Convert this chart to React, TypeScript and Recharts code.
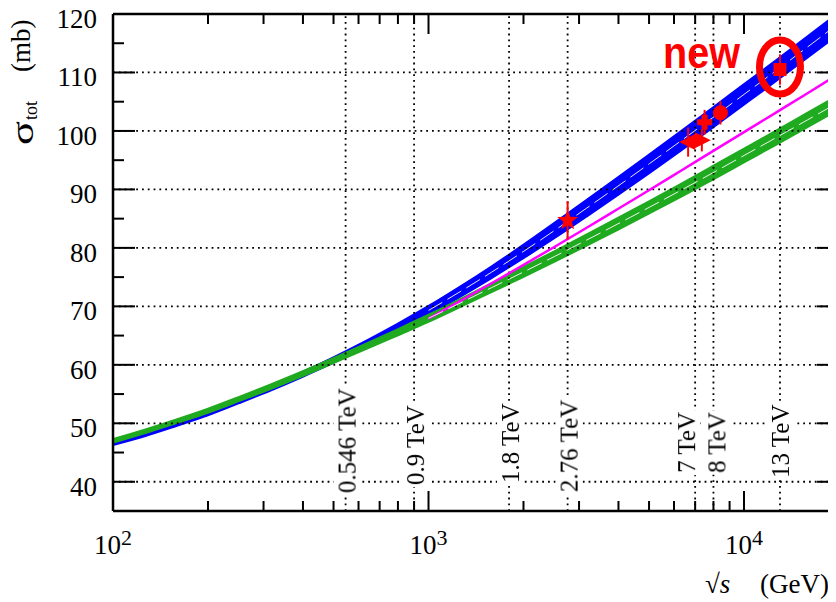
import React from 'react';
import {
  ComposedChart,
  XAxis,
  YAxis,
  Line,
  Area,
  Scatter,
  ErrorBar,
  ReferenceLine,
} from 'recharts';

// ---- model curves: total cross-section (mb) vs sqrt(s) (GeV) ----
const energies = [
  100, 126, 158, 200, 251, 316, 398, 501, 631, 794, 1000, 1259, 1585, 1995,
  2512, 3162, 3981, 5012, 6310, 7943, 10000, 12589, 15849, 19953,
];

const blueCentral = [
  46.6, 48.1, 49.8, 51.7, 53.8, 56.0, 58.35, 60.85, 63.5, 66.3, 69.3, 72.5,
  75.85, 79.35, 83.0, 86.75, 90.55, 94.4, 98.3, 102.25, 106.25, 110.25, 114.3,
  118.4,
];
const blueLower = [
  46.25, 47.75, 49.45, 51.32, 53.4, 55.57, 57.88, 60.33, 62.9, 65.6, 68.5,
  71.58, 74.8, 78.15, 81.65, 85.28, 88.98, 92.76, 96.6, 100.5, 104.45, 108.42,
  112.44, 116.5,
];
const blueUpper = [
  46.95, 48.45, 50.15, 52.08, 54.2, 56.43, 58.82, 61.37, 64.1, 67.0, 70.1,
  73.42, 76.9, 80.55, 84.35, 88.22, 92.12, 96.04, 100.0, 104.0, 108.05,
  112.08, 116.16, 120.3,
];

const greenCentral = [
  47.0, 48.6, 50.3, 52.15, 54.15, 56.25, 58.45, 60.75, 63.1, 65.5, 67.95,
  70.55, 73.2, 75.85, 78.55, 81.3, 84.1, 86.95, 89.85, 92.8, 95.8, 98.8,
  101.85, 104.9,
];
const greenLower = [
  46.65, 48.25, 49.95, 51.77, 53.75, 55.83, 58.01, 60.29, 62.6, 64.94, 67.3,
  69.83, 72.4, 74.97, 77.6, 80.3, 83.05, 85.85, 88.7, 91.6, 94.58, 97.55,
  100.57, 103.6,
];
const greenUpper = [
  47.35, 48.95, 50.65, 52.53, 54.55, 56.67, 58.89, 61.21, 63.6, 66.06, 68.6,
  71.27, 74.0, 76.73, 79.5, 82.3, 85.15, 88.05, 91.0, 94.0, 97.02, 100.05,
  103.13, 106.2,
];

const magentaEnergies = [
  1000, 1259, 1585, 1995, 2512, 3162, 3981, 5012, 6310, 7943, 10000, 12589,
  15849, 19953,
];
const magentaValues = [
  67.9, 70.9, 73.95, 77.05, 80.2, 83.4, 86.65, 89.9, 93.2, 96.5, 99.8, 103.1,
  106.4, 109.75,
];

// ---- measurements ----
const starPoints = [{ e: 2760, s: 84.7, err: 3.3 }];
const leftTrianglePoints = [{ e: 6650, s: 98.1, err: 2.5 }];
const rightTrianglePoints = [{ e: 7350, s: 98.4, err: 1.9 }];
const crossPoints = [{ e: 7500, s: 101.5, err: 2.1 }];
const circlePoints = [{ e: 8420, s: 103.1, err: 2.0 }];
const squarePoints = [{ e: 13000, s: 110.5, err: 2.6 }];

// ---- axes, grid and energy markers ----
const xTicks = [
  100, 200, 300, 400, 500, 600, 700, 800, 900, 1000, 2000, 3000, 4000, 5000,
  6000, 7000, 8000, 9000, 10000, 20000,
];
const yTicks = [40, 45, 50, 55, 60, 65, 70, 75, 80, 85, 90, 95, 100, 105, 110, 115, 120];
const gridValues = [40, 50, 60, 70, 80, 90, 100, 110];
const lhcEnergies = [546, 900, 1800, 2760, 7000, 8000, 13000];
const lhcLabels = ['0.546 TeV', '0.9 TeV', '1.8 TeV', '2.76 TeV', '7 TeV', '8 TeV', '13 TeV'];

// label placement (px): baseline shift from the line, lift above the frame
const labelShift = [10, 10, 10, 10, 0, 12, 9];
const labelLift = [18, 26, 28, 19, 38, 38, 33];

// ---- layout ----
const W = 840;
const H = 594;
const PLOT_LEFT = 105;
const PLOT_TOP = 6;
const PLOT_RIGHT = 831;
const PLOT_BOTTOM = 503;
const Y_AXIS_W = 60;
const X_AXIS_H = 40;

const SERIF = '"Liberation Serif", "Times New Roman", Times, serif';
const SANS = '"Liberation Sans", Arial, Helvetica, sans-serif';
const RED = '#ff0000';
const BLUE = '#0000ff';
const GREEN = '#1faa1f';
const MAGENTA = '#ff00ff';

const blueBand = energies.map((e, i) => ({ e, range: [blueLower[i], blueUpper[i]] }));
const greenBand = energies.map((e, i) => ({ e, range: [greenLower[i], greenUpper[i]] }));
const blueMid = energies
  .map((e, i) => ({ e, s: blueCentral[i] }))
  .filter((d) => d.e >= 1000);
const greenMid = energies
  .map((e, i) => ({ e, s: greenCentral[i] }))
  .filter((d) => d.e >= 1000);
const magentaCurve = magentaEnergies.map((e, i) => ({ e, s: magentaValues[i] }));

function XTick(props: any) {
  const { x, payload } = props;
  const v: number = payload.value;
  const exp = Math.round(Math.log10(v));
  const major = Math.abs(Math.pow(10, exp) - v) < 1e-6;
  const len = major ? 20 : 10;
  return (
    <g>
      <line x1={x} x2={x} y1={PLOT_BOTTOM} y2={PLOT_BOTTOM - len} stroke="#000" strokeWidth={2} />
      <line x1={x} x2={x} y1={PLOT_TOP} y2={PLOT_TOP + len} stroke="#000" strokeWidth={2} />
      {major && (
        <text x={x} y={PLOT_BOTTOM + 43} textAnchor="middle" fontFamily={SERIF} fontSize={27} fill="#000">
          10
          <tspan fontSize={22} dy={-9}>
            {exp}
          </tspan>
        </text>
      )}
    </g>
  );
}

function YTick(props: any) {
  const { y, payload } = props;
  const v: number = payload.value;
  const major = v % 10 === 0;
  const len = major ? 22 : 11;
  return (
    <g>
      <line x1={PLOT_LEFT} x2={PLOT_LEFT + len} y1={y} y2={y} stroke="#000" strokeWidth={2} />
      <line x1={PLOT_RIGHT} x2={PLOT_RIGHT - len} y1={y} y2={y} stroke="#000" strokeWidth={2} />
      {major && (
        <text x={PLOT_LEFT - 16} y={y + 14} textAnchor="end" fontFamily={SERIF} fontSize={27} fill="#000">
          {v}
        </text>
      )}
    </g>
  );
}

function EnergyLabel(props: any) {
  const { viewBox, text, shift, lift, id } = props;
  if (!viewBox) return null;
  const x = viewBox.x + shift;
  const y = viewBox.y + viewBox.height - lift;
  return (
    <g>
      <defs>
        <filter
          id={id}
          x="-0.02"
          y="0"
          width="1.04"
          height="1"
          colorInterpolationFilters="sRGB"
        >
          <feFlood floodColor="#ffffff" />
          <feComposite in="SourceGraphic" operator="over" />
        </filter>
      </defs>
      <text
        x={x}
        y={y}
        transform={`rotate(-90 ${x} ${y})`}
        filter={`url(#${id})`}
        fontFamily={SERIF}
        fontSize={25}
        fill="#000"
      >
        {text}
      </text>
    </g>
  );
}

const starShape = (p: any) => {
  const { cx, cy } = p;
  const pts: string[] = [];
  for (let k = 0; k < 10; k++) {
    const r = k % 2 === 0 ? 11 : 4.5;
    const a = -Math.PI / 2 + (k * Math.PI) / 5;
    pts.push(`${cx + r * Math.cos(a)},${cy + r * Math.sin(a)}`);
  }
  return <polygon points={pts.join(' ')} fill={RED} />;
};

const leftTriangleShape = (p: any) => {
  const { cx, cy } = p;
  return <polygon points={`${cx - 9},${cy} ${cx + 7},${cy - 8} ${cx + 7},${cy + 8}`} fill={RED} />;
};

const rightTriangleShape = (p: any) => {
  const { cx, cy } = p;
  return <polygon points={`${cx + 9},${cy} ${cx - 7},${cy - 8} ${cx - 7},${cy + 8}`} fill={RED} />;
};

const crossShape = (p: any) => {
  const { cx, cy } = p;
  const a = 7.5;
  const b = 3;
  const d = `M${cx - b},${cy - a} H${cx + b} V${cy - b} H${cx + a} V${cy + b} H${cx + b} V${cy + a} H${cx - b} V${cy + b} H${cx - a} V${cy - b} H${cx - b} Z`;
  return <path d={d} fill={RED} />;
};

const circleShape = (p: any) => {
  const { cx, cy } = p;
  return <circle cx={cx} cy={cy} r={7.5} fill={RED} />;
};

const squareShape = (p: any) => {
  const { cx, cy } = p;
  return <rect x={cx - 6.5} y={cy - 6.5} width={13} height={13} fill={RED} />;
};

const highlightShape = (p: any) => {
  const { cx, cy } = p;
  return (
    <g>
      <ellipse cx={cx} cy={cy - 2.5} rx={20.5} ry={27} fill="none" stroke={RED} strokeWidth={7} />
      <text
        x={cx - 117}
        y={cy - 1.7}
        fontFamily={SANS}
        fontWeight="bold"
        fontSize={44}
        textLength={77}
        lengthAdjust="spacingAndGlyphs"
        fill={RED}
      >
        new
      </text>
    </g>
  );
};

const dotted = { stroke: '#000', strokeWidth: 1.8, strokeDasharray: '1.8 4' };

export default function App() {
  return (
    <div style={{ width: 828, height: H, overflow: 'hidden', background: '#fff', position: 'relative' }}>
      <ComposedChart
        width={W}
        height={H}
        margin={{
          top: PLOT_TOP,
          right: W - PLOT_RIGHT,
          bottom: H - PLOT_BOTTOM - X_AXIS_H,
          left: PLOT_LEFT - Y_AXIS_W,
        }}
      >
        <XAxis
          dataKey="e"
          type="number"
          scale="log"
          domain={[100, 20000]}
          ticks={xTicks}
          interval={0}
          height={X_AXIS_H}
          tickSize={0}
          tickMargin={0}
          tickLine={false}
          tick={(p: any) => <XTick {...p} />}
          axisLine={{ stroke: '#000', strokeWidth: 2.5 }}
          allowDataOverflow
        />
        <YAxis
          type="number"
          domain={[35, 120]}
          ticks={yTicks}
          interval={0}
          width={Y_AXIS_W}
          tickSize={0}
          tickMargin={0}
          tickLine={false}
          tick={(p: any) => <YTick {...p} />}
          axisLine={{ stroke: '#000', strokeWidth: 2.5 }}
          allowDataOverflow
        />

        {gridValues.map((v) => (
          <ReferenceLine key={`g${v}`} y={v} {...dotted} />
        ))}
        {lhcEnergies.map((e, i) => (
          <ReferenceLine
            key={`v${e}`}
            x={e}
            {...dotted}
            label={(p: any) => (
              <EnergyLabel
                viewBox={p.viewBox}
                text={lhcLabels[i]}
                shift={labelShift[i]}
                lift={labelLift[i]}
                id={`lblbg${i}`}
              />
            )}
          />
        ))}

        <Line
          data={magentaCurve}
          dataKey="s"
          type="monotone"
          stroke={MAGENTA}
          strokeWidth={2.5}
          dot={false}
          isAnimationActive={false}
        />
        <Area
          data={blueBand}
          dataKey="range"
          type="monotone"
          stroke={BLUE}
          strokeWidth={1.5}
          fill={BLUE}
          fillOpacity={1}
          isAnimationActive={false}
        />
        <Line
          data={blueMid}
          dataKey="s"
          type="monotone"
          stroke="#ffffff"
          strokeWidth={0.9}
          strokeDasharray="16 6"
          dot={false}
          isAnimationActive={false}
        />
        <Area
          data={greenBand}
          dataKey="range"
          type="monotone"
          stroke={GREEN}
          strokeWidth={1.5}
          fill={GREEN}
          fillOpacity={1}
          isAnimationActive={false}
        />
        <Line
          data={greenMid}
          dataKey="s"
          type="monotone"
          stroke="#ffffff"
          strokeWidth={0.9}
          strokeDasharray="16 6"
          dot={false}
          isAnimationActive={false}
        />

        <Scatter data={starPoints} dataKey="s" shape={starShape} isAnimationActive={false}>
          <ErrorBar dataKey="err" direction="y" width={0} stroke={RED} strokeWidth={2} />
        </Scatter>
        <Scatter data={leftTrianglePoints} dataKey="s" shape={leftTriangleShape} isAnimationActive={false}>
          <ErrorBar dataKey="err" direction="y" width={0} stroke={RED} strokeWidth={2} />
        </Scatter>
        <Scatter data={rightTrianglePoints} dataKey="s" shape={rightTriangleShape} isAnimationActive={false}>
          <ErrorBar dataKey="err" direction="y" width={0} stroke={RED} strokeWidth={2} />
        </Scatter>
        <Scatter data={crossPoints} dataKey="s" shape={crossShape} isAnimationActive={false}>
          <ErrorBar dataKey="err" direction="y" width={0} stroke={RED} strokeWidth={2} />
        </Scatter>
        <Scatter data={circlePoints} dataKey="s" shape={circleShape} isAnimationActive={false}>
          <ErrorBar dataKey="err" direction="y" width={0} stroke={RED} strokeWidth={2} />
        </Scatter>
        <Scatter data={squarePoints} dataKey="s" shape={squareShape} isAnimationActive={false}>
          <ErrorBar dataKey="err" direction="y" width={0} stroke={RED} strokeWidth={2} />
        </Scatter>
        <Scatter data={squarePoints} dataKey="s" shape={highlightShape} isAnimationActive={false} />

        <ReferenceLine y={120} stroke="#000" strokeWidth={2.5} />
      </ComposedChart>

      {/* axis titles */}
      <svg
        width={828}
        height={H}
        style={{ position: 'absolute', left: 0, top: 0, pointerEvents: 'none' }}
      >
        <text
          x={25}
          y={137}
          transform="rotate(-90 25 137)"
          fontFamily={SERIF}
          fontSize={31}
          textLength={24}
          lengthAdjust="spacingAndGlyphs"
          fill="#000"
        >
          σ
        </text>
        <text x={29} y={112} transform="rotate(-90 29 112)" fontFamily={SERIF} fontSize={18} fill="#000">
          tot
        </text>
        <text x={22} y={64} transform="rotate(-90 22 64)" fontFamily={SERIF} fontSize={27} fill="#000">
          (mb)
        </text>
        <text x={697} y={585} fontFamily={SERIF} fontSize={27} fill="#000">
          √<tspan fontStyle="italic">s</tspan>
        </text>
        <text x={752} y={585} fontFamily={SERIF} fontSize={27} fill="#000">
          (GeV)
        </text>
      </svg>
    </div>
  );
}
